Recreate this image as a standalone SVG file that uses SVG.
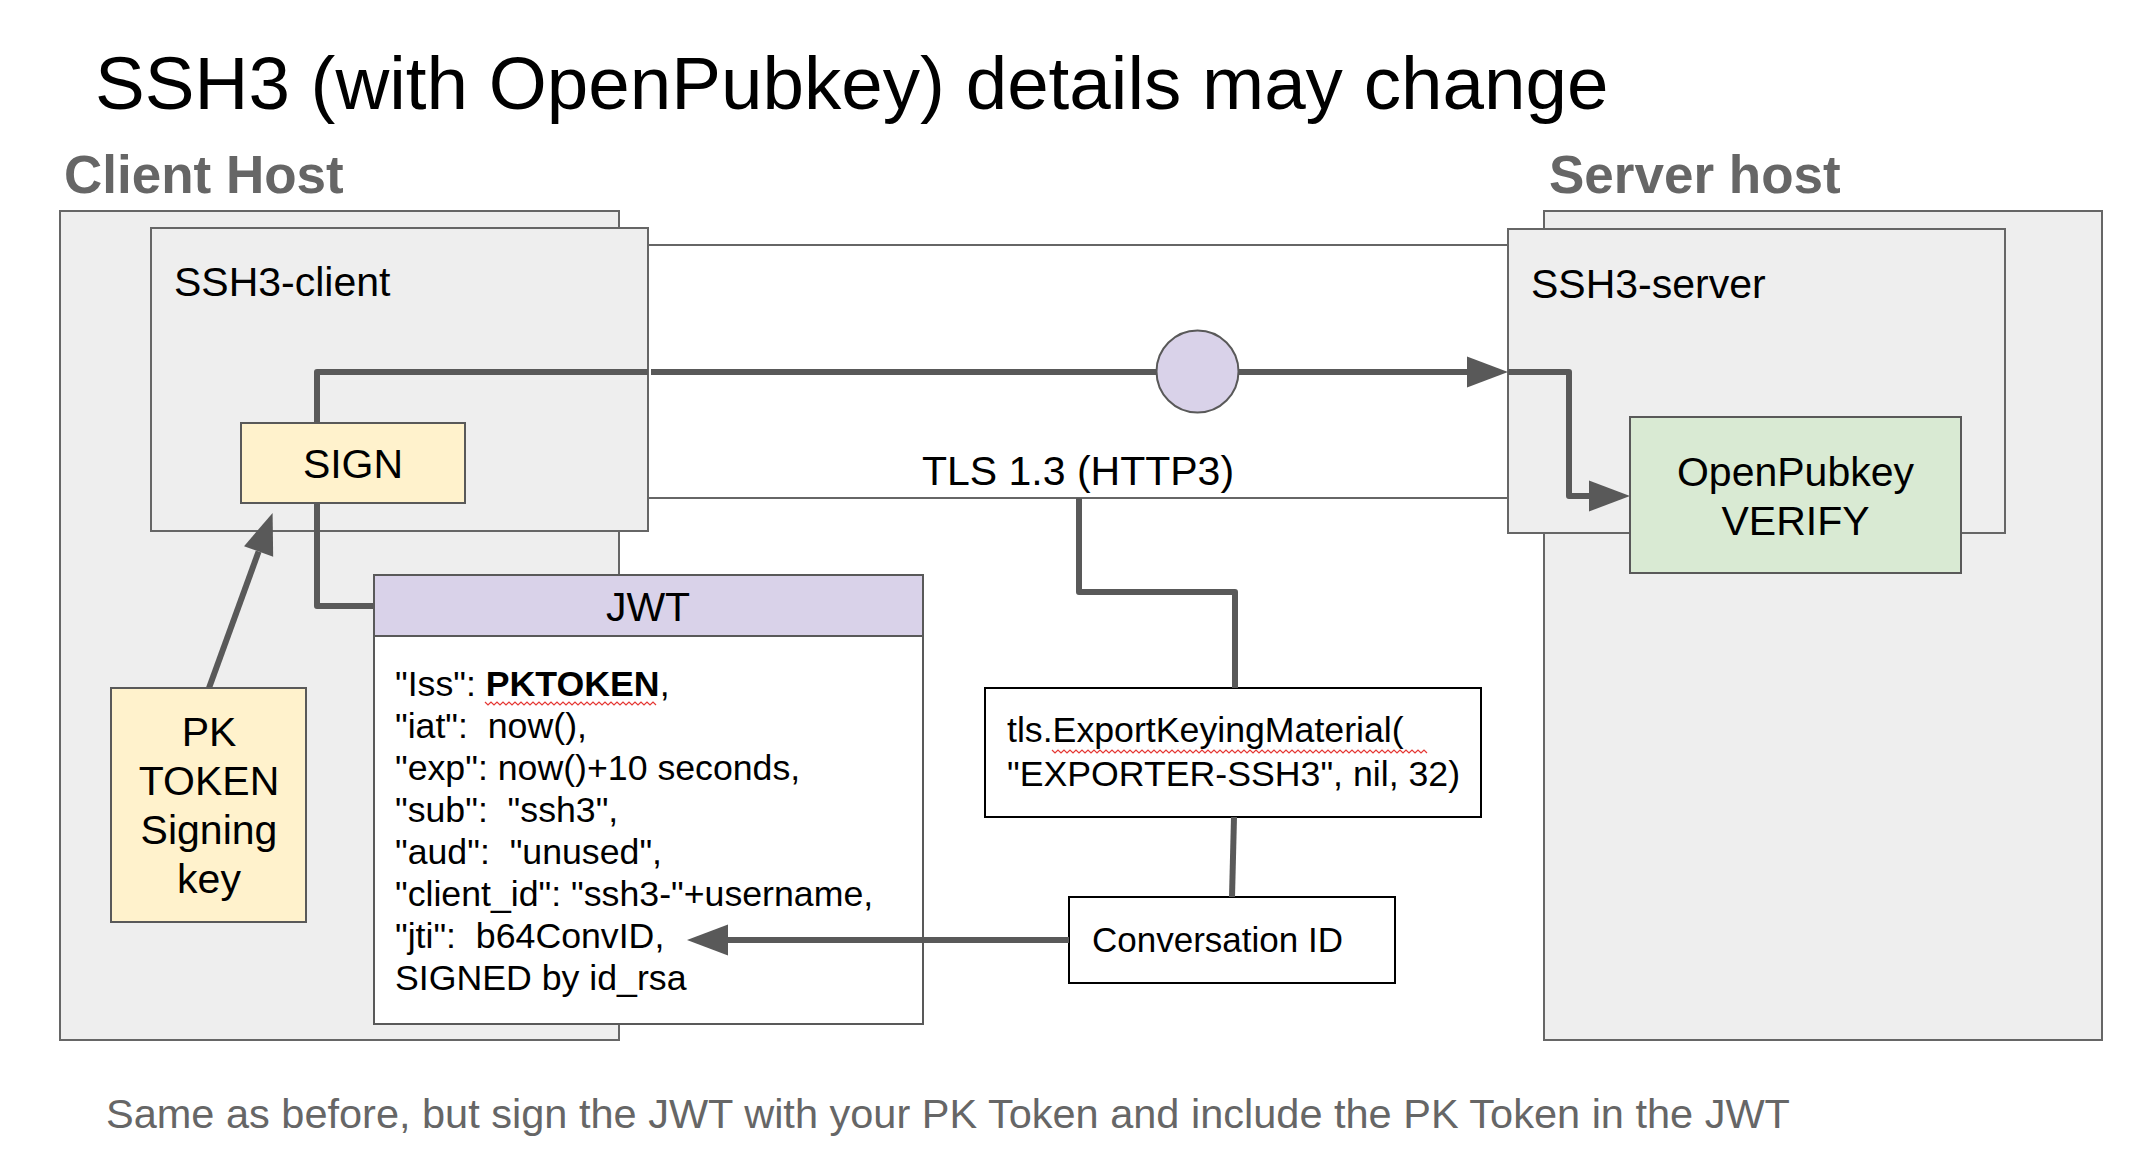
<svg xmlns="http://www.w3.org/2000/svg" width="2132" height="1170" viewBox="0 0 2132 1170">
<style>
text{font-family:"Liberation Sans",Arial,sans-serif;fill:#000;white-space:pre}
.title{font-size:74.6px}
.host{font-size:53px;font-weight:bold;fill:#666666}
.lbl{font-size:41px}
.mid{text-anchor:middle}
.body{font-size:35.7px}
.small{font-size:35.7px}
.foot{font-size:41.5px;fill:#666666}
.container{fill:#eeeeee;stroke:#666666;stroke-width:2}
.box{stroke:#595959;stroke-width:2}
.thick{fill:none;stroke:#595959;stroke-width:6;stroke-linejoin:round}
.thin{fill:none;stroke:#666666;stroke-width:2}
.squig{fill:none;stroke:#e53935;stroke-width:1.2}
</style>
<defs>
<marker id="arr" markerUnits="userSpaceOnUse" markerWidth="42" markerHeight="32" refX="0" refY="15.5" orient="auto" overflow="visible">
<path d="M0,0 L41,15.5 L0,31 z" fill="#595959"/>
</marker>
</defs>
<rect width="2132" height="1170" fill="#ffffff"/>
<text class="title" x="95" y="109">SSH3 (with OpenPubkey) details may change</text>

<g id="client-host">
<rect class="container" x="60" y="211" width="559" height="829"/>
<text class="host" x="64" y="193">Client Host</text>
</g>
<g id="ssh3-client">
<rect class="container" x="151" y="228" width="497" height="303"/>
<text class="lbl" x="174" y="296">SSH3-client</text>
</g>
<g id="server-host">
<rect class="container" x="1544" y="211" width="558" height="829"/>
<text class="host" x="1549" y="193">Server host</text>
</g>
<g id="ssh3-server">
<rect class="container" x="1508" y="229" width="497" height="304"/>
<text class="lbl" x="1531" y="298">SSH3-server</text>
</g>

<g id="tls-tunnel">
<line class="thin" x1="648" y1="245" x2="1508" y2="245"/>
<line class="thin" x1="648" y1="498" x2="1508" y2="498"/>
<text class="lbl mid" x="1078" y="485">TLS 1.3 (HTTP3)</text>
</g>

<g id="sign">
<rect class="box" x="241" y="423" width="224" height="80" fill="#fff2cc"/>
<text class="lbl mid" x="353" y="478">SIGN</text>
</g>

<g id="pk-token">
<rect class="box" x="111" y="688" width="195" height="234" fill="#fff2cc"/>
<text class="lbl mid" x="209" y="746">PK</text>
<text class="lbl mid" x="209" y="795">TOKEN</text>
<text class="lbl mid" x="209" y="844">Signing</text>
<text class="lbl mid" x="209" y="893">key</text>
</g>

<g id="jwt">
<rect class="box" x="374" y="636" width="549" height="388" fill="#ffffff"/>
<rect class="box" x="374" y="575" width="549" height="61" fill="#d9d2e9"/>
<text class="lbl mid" x="648" y="621">JWT</text>
<text class="body" x="395" y="696">"Iss": <tspan font-weight="bold">PKTOKEN</tspan>,</text>
<path class="squig" d="M485,702 l3,3 l3,-3 l3,3 l3,-3 l3,3 l3,-3 l3,3 l3,-3 l3,3 l3,-3 l3,3 l3,-3 l3,3 l3,-3 l3,3 l3,-3 l3,3 l3,-3 l3,3 l3,-3 l3,3 l3,-3 l3,3 l3,-3 l3,3 l3,-3 l3,3 l3,-3 l3,3 l3,-3 l3,3 l3,-3 l3,3 l3,-3 l3,3 l3,-3 l3,3 l3,-3 l3,3 l3,-3 l3,3 l3,-3 l3,3 l3,-3 l3,3 l3,-3 l3,3 l3,-3 l3,3 l3,-3 l3,3 l3,-3 l3,3 l3,-3 l3,3 l3,-3 l3,3"/>
<text class="body" x="395" y="738">"iat":  now(),</text>
<text class="body" x="395" y="780">"exp": now()+10 seconds,</text>
<text class="body" x="395" y="822">"sub":  "ssh3",</text>
<text class="body" x="395" y="864">"aud":  "unused",</text>
<text class="body" x="395" y="906">"client_id": "ssh3-"+username,</text>
<text class="body" x="395" y="948">"jti":  b64ConvID,</text>
<text class="body" x="395" y="990">SIGNED by id_rsa</text>
</g>

<g id="export-keying">
<rect x="985" y="688" width="496" height="129" fill="#ffffff" stroke="#000000" stroke-width="2"/>
<text class="small" x="1007" y="742">tls.ExportKeyingMaterial(</text>
<path class="squig" d="M1052,750 l3,3 l3,-3 l3,3 l3,-3 l3,3 l3,-3 l3,3 l3,-3 l3,3 l3,-3 l3,3 l3,-3 l3,3 l3,-3 l3,3 l3,-3 l3,3 l3,-3 l3,3 l3,-3 l3,3 l3,-3 l3,3 l3,-3 l3,3 l3,-3 l3,3 l3,-3 l3,3 l3,-3 l3,3 l3,-3 l3,3 l3,-3 l3,3 l3,-3 l3,3 l3,-3 l3,3 l3,-3 l3,3 l3,-3 l3,3 l3,-3 l3,3 l3,-3 l3,3 l3,-3 l3,3 l3,-3 l3,3 l3,-3 l3,3 l3,-3 l3,3 l3,-3 l3,3 l3,-3 l3,3 l3,-3 l3,3 l3,-3 l3,3 l3,-3 l3,3 l3,-3 l3,3 l3,-3 l3,3 l3,-3 l3,3 l3,-3 l3,3 l3,-3 l3,3 l3,-3 l3,3 l3,-3 l3,3 l3,-3 l3,3 l3,-3 l3,3 l3,-3 l3,3 l3,-3 l3,3 l3,-3 l3,3 l3,-3 l3,3 l3,-3 l3,3 l3,-3 l3,3 l3,-3 l3,3 l3,-3 l3,3 l3,-3 l3,3 l3,-3 l3,3 l3,-3 l3,3 l3,-3 l3,3 l3,-3 l3,3 l3,-3 l3,3 l3,-3 l3,3 l3,-3 l3,3 l3,-3 l3,3 l3,-3 l3,3 l3,-3 l3,3 l3,-3 l3,3 l3,-3 l3,3"/>
<text class="small" x="1007" y="786">"EXPORTER-SSH3", nil, 32)</text>
</g>

<g id="conversation-id">
<rect x="1069" y="897" width="326" height="86" fill="#ffffff" stroke="#000000" stroke-width="2"/>
<text class="small" x="1092" y="952" style="font-size:35px">Conversation ID</text>
</g>

<g id="openpubkey-verify">
<rect class="box" x="1630" y="417" width="331" height="156" fill="#d9ead3"/>
<text class="lbl mid" x="1795.5" y="486">OpenPubkey</text>
<text class="lbl mid" x="1795.5" y="535">VERIFY</text>
</g>

<g id="connectors">
<path class="thick" d="M374,606 H317 V503"/>
<path class="thick" d="M317,423 V372 H648"/>
<path class="thick" d="M651,372 H1467" marker-end="url(#arr)"/>
<path class="thick" d="M1508,372 H1569 V496 H1589" marker-end="url(#arr)"/>
<path class="thick" d="M209,688 L258.6,551.5" marker-end="url(#arr)"/>
<path class="thick" d="M1069,940 H728" marker-end="url(#arr)"/>
<path class="thick" d="M1079,498 V592 H1235 V688"/>
<path class="thick" d="M1234,817 L1232,897"/>
</g>

<g id="handshake-point">
<circle cx="1197.5" cy="371.5" r="41" fill="#d9d2e9" stroke="#595959" stroke-width="2"/>
</g>

<text class="foot" x="106" y="1128">Same as before, but sign the JWT with your PK Token and include the PK Token in the JWT</text>
</svg>
